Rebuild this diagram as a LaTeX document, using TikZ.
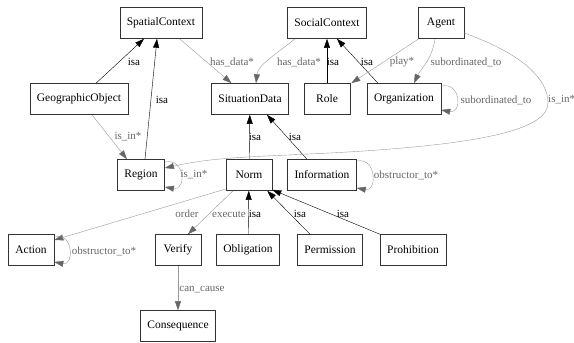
\documentclass[tikz,border=0pt]{standalone}
\usepackage{fontspec}
\setmainfont{Liberation Serif}
\usetikzlibrary{arrows.meta}
\tikzset{
  cls/.style={draw=black!80, line width=0.6pt, rectangle, minimum height=31pt, minimum width=46pt, inner xsep=7pt, font=\fontsize{11.5}{13}\selectfont},
  isa/.style={draw=black, line width=0.4pt, -{Triangle[length=9pt,width=6pt]}},
  rel/.style={draw=black!40, line width=0.4pt, -{Triangle[length=9pt,width=6pt,color=black!60,fill=black!60]}},
  lbl/.style={font=\fontsize{11}{12}\selectfont, inner sep=1pt},
  rlbl/.style={lbl, text=black!60}
}
\begin{document}
\begin{tikzpicture}[x=1pt,y=-1pt]
\useasboundingbox (0,0) rectangle (574,343);
% classes
\node[cls] (SpatialContext) at (161,23) {SpatialContext};
\node[cls] (SocialContext) at (327,23) {SocialContext};
\node[cls] (Agent) at (441,23) {Agent};
\node[cls] (GeographicObject) at (79,99) {GeographicObject};
\node[cls] (SituationData) at (250,99) {SituationData};
\node[cls] (Role) at (327,99) {Role};
\node[cls] (Organization) at (404,99) {Organization};
\node[cls] (Region) at (141,175) {Region};
\node[cls] (Norm) at (249,175) {Norm};
\node[cls] (Information) at (322,175) {Information};
\node[cls] (Action) at (31,250) {Action};
\node[cls] (Verify) at (178,250) {Verify};
\node[cls] (Obligation) at (248,250) {Obligation};
\node[cls] (Permission) at (330,250) {Permission};
\node[cls] (Prohibition) at (413,250) {Prohibition};
\node[cls] (Consequence) at (178,326) {Consequence};

% isa
\draw[isa] (GeographicObject) -- (SpatialContext);
\draw[isa] ([xshift=4pt]Region.north) -- ([xshift=-4pt]SpatialContext.south);
\draw[isa] (Role) -- (SocialContext);
\draw[isa] ([xshift=-26pt]Organization.north) -- ([xshift=10pt]SocialContext.south);
\draw[isa] (Norm) -- (SituationData);
\draw[isa] ([xshift=-15pt]Information.north) -- ([xshift=17pt]SituationData.south);
\draw[isa] (Obligation) -- (Norm);
\draw[isa] ([xshift=-20pt]Permission.north) -- ([xshift=-5pt]Norm.south east);
\draw[isa] (Prohibition.north west) -- ([yshift=1pt]Norm.south east);

% relations
\draw[rel] (SpatialContext) -- (SituationData);
\draw[rel] ([xshift=-32pt]SocialContext.south) .. controls (275,55) and (258,65) .. ([xshift=6pt]SituationData.north);
\draw[rel] ([xshift=1pt]Agent.south west) -- ([xshift=1pt]Role.north east);
\draw[rel] ([xshift=-6pt]Agent.south) .. controls (432,60) and (420,70) .. ([xshift=10pt]Organization.north);
\draw[rel] ([yshift=13pt]Organization.east) .. controls (462,82) and (462,114) .. ([yshift=-11pt]Organization.east);
\draw[rel] ([yshift=-10pt]Agent.east) .. controls (525,55) and (548,80) .. (548,103)
  .. controls (548,130) and (480,145) .. (330,153)
  .. controls (250,157) and (215,157) .. ([yshift=7pt]Region.east);
\draw[rel] ([xshift=13pt]GeographicObject.south) -- ([xshift=-14pt]Region.north);
\draw[rel] ([yshift=13pt]Region.east) .. controls (186,158) and (186,191) .. ([yshift=-12pt]Region.east);
\draw[rel] ([yshift=14pt]Information.east) .. controls (377,157) and (377,192) .. ([yshift=-13pt]Information.east);
\draw[rel] ([yshift=-14pt]Norm.west) -- ([yshift=10pt]Action.east);
\draw[rel] ([xshift=-16pt]Norm.south) -- ([xshift=10pt]Verify.north);
\draw[rel] ([yshift=13pt]Action.east) .. controls (74,232) and (74,266) .. ([yshift=-12pt]Action.east);
\draw[rel] (Verify) -- (Consequence);

% labels
\node[lbl] (l1) at (134,62) {isa};
\node[lbl] (l2) at (162,100) {isa};
\node[rlbl] (l3) at (232,62) {has\_data*};
\node[rlbl] (l4) at (299,62) {has\_data*};
\node[lbl] (l5) at (333,62) {isa};
\node[lbl] (l6) at (367,62) {isa};
\node[rlbl] (l7) at (402,62) {play*};
\node[rlbl] (l8) at (466,62) {subordinated\_to};
\node[rlbl] (l9) at (496,100) {subordinated\_to};
\node[rlbl, anchor=west] (l10) at (547,100) {is\_in*};
\node[rlbl] (l11) at (128,137) {is\_in*};
\node[rlbl] (l12) at (194,175) {is\_in*};
\node[lbl] (l13) at (255,137) {isa};
\node[lbl] (l14) at (295,137) {isa};
\node[rlbl] (l15) at (406,175) {obstructor\_to*};
\node[rlbl] (l16) at (187,214) {order};
\node[rlbl] (l17) at (229,214) {execute};
\node[lbl] (l18) at (255,214) {isa};
\node[lbl] (l19) at (300,214) {isa};
\node[lbl] (l20) at (343,214) {isa};
\node[rlbl] (l21) at (104,251) {obstructor\_to*};
\node[rlbl] (l22) at (202,290) {can\_cause};
\end{tikzpicture}
\end{document}
